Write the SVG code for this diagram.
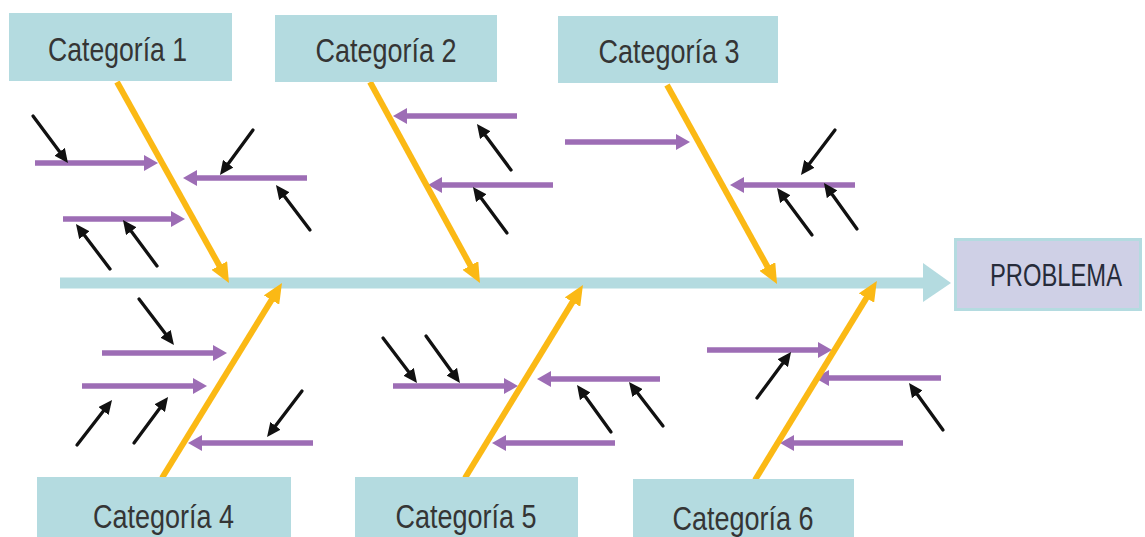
<svg xmlns="http://www.w3.org/2000/svg" width="1145" height="537" viewBox="0 0 1145 537">
  <style>
    .box { fill: #b4dbe0; }
    .label { font-family: "Liberation Sans Narrow", "Liberation Sans", Arial, sans-serif; font-size: 34px; fill: #353535; text-anchor: middle; }
    .problem { fill: #cfd0e6; stroke: #b4dbe0; stroke-width: 3; }
    .problem-label { fill: #262b3a; font-size: 31px; }
    .spine { stroke: #b4dbe0; stroke-width: 11; fill: none; }
    .bone { stroke: #fbb915; stroke-width: 6; fill: none; marker-end: url(#headBone); }
    .cause { stroke: #9d6db5; stroke-width: 5.5; fill: none; marker-end: url(#headCause); }
    .sub { stroke: #111; stroke-width: 3.3; stroke-linecap: round; fill: none; marker-end: url(#headSub); }
  </style>
  <defs>
    <marker id="headBone" markerUnits="userSpaceOnUse" markerWidth="20" markerHeight="18" refX="4" refY="9" orient="auto">
      <path d="M0,0 L20,9 L0,18 z" fill="#fbb915"/>
    </marker>
    <marker id="headCause" markerUnits="userSpaceOnUse" markerWidth="14" markerHeight="16" refX="4" refY="8" orient="auto">
      <path d="M0,0 L14,8 L0,16 z" fill="#9d6db5"/>
    </marker>
    <marker id="headSub" markerUnits="userSpaceOnUse" markerWidth="14" markerHeight="13" refX="5" refY="6.5" orient="auto">
      <path d="M0,0 L14,6.5 L0,13 z" fill="#111"/>
    </marker>
  </defs>

  <rect width="1145" height="537" fill="#ffffff"/>

  <!-- connectors: spine, category bones, causes and sub-causes -->
  <g id="connectors">
    <g id="spine">
      <line class="spine" x1="60" y1="283" x2="924" y2="283"/>
      <path d="M923,263 L951,283 L923,302 z" fill="#b4dbe0"/>
    </g>

    <g id="causes">
      <line class="cause" x1="35" y1="163" x2="148" y2="163"/>
      <line class="cause" x1="307" y1="178" x2="193" y2="178"/>
      <line class="cause" x1="63" y1="219" x2="175" y2="219"/>
      <line class="cause" x1="517" y1="116" x2="403" y2="116"/>
      <line class="cause" x1="565" y1="142" x2="680" y2="142"/>
      <line class="cause" x1="553" y1="185" x2="438" y2="185"/>
      <line class="cause" x1="855" y1="185" x2="740" y2="185"/>
      <line class="cause" x1="102" y1="353" x2="217" y2="353"/>
      <line class="cause" x1="82" y1="386" x2="197" y2="386"/>
      <line class="cause" x1="313" y1="443" x2="198" y2="443"/>
      <line class="cause" x1="393" y1="386" x2="508" y2="386"/>
      <line class="cause" x1="660" y1="379" x2="547" y2="379"/>
      <line class="cause" x1="615" y1="443" x2="502" y2="443"/>
      <line class="cause" x1="707" y1="350" x2="822" y2="350"/>
      <line class="cause" x1="941" y1="378" x2="825" y2="378"/>
      <line class="cause" x1="903" y1="443" x2="790" y2="443"/>
    </g>

    <g id="bones">
      <line class="bone" x1="117" y1="82" x2="221.2" y2="269"/>
      <line class="bone" x1="370" y1="82" x2="472.3" y2="269"/>
      <line class="bone" x1="667" y1="85" x2="769.3" y2="270"/>
      <line class="bone" x1="162" y1="478" x2="273.6" y2="296.6"/>
      <line class="bone" x1="465" y1="478" x2="574.6" y2="298.6"/>
      <line class="bone" x1="755" y1="480" x2="868.5" y2="294.6"/>
    </g>

    <g id="sub-causes">
      <line class="sub" x1="33" y1="116" x2="62.6" y2="155.8"/>
      <line class="sub" x1="253" y1="130" x2="225.3" y2="167.7"/>
      <line class="sub" x1="310" y1="230" x2="281.4" y2="192.2"/>
      <line class="sub" x1="110" y1="269" x2="81.4" y2="231.2"/>
      <line class="sub" x1="157" y1="266" x2="128.3" y2="227.2"/>
      <line class="sub" x1="511" y1="170" x2="482.3" y2="131.2"/>
      <line class="sub" x1="507" y1="233" x2="478.3" y2="194.2"/>
      <line class="sub" x1="835" y1="130" x2="806.4" y2="167.8"/>
      <line class="sub" x1="812" y1="235" x2="782.4" y2="195.2"/>
      <line class="sub" x1="857" y1="229" x2="829.2" y2="190.3"/>
      <line class="sub" x1="139" y1="299" x2="168.5" y2="337.8"/>
      <line class="sub" x1="77" y1="445" x2="106.5" y2="407.1"/>
      <line class="sub" x1="134" y1="443" x2="162.7" y2="404.2"/>
      <line class="sub" x1="302" y1="391" x2="272.5" y2="429.8"/>
      <line class="sub" x1="383" y1="338" x2="411.6" y2="375.8"/>
      <line class="sub" x1="426" y1="336" x2="454.7" y2="375.7"/>
      <line class="sub" x1="611" y1="432" x2="582.3" y2="392.3"/>
      <line class="sub" x1="663" y1="426" x2="634.5" y2="389.1"/>
      <line class="sub" x1="757" y1="398" x2="785.7" y2="359.2"/>
      <line class="sub" x1="943" y1="430" x2="914.3" y2="390.3"/>
    </g>
  </g>

  <!-- category headers -->
  <g id="cat1">
    <rect class="box" x="9" y="13" width="223" height="68"/>
    <text class="label" x="117.5" y="61" textLength="139" lengthAdjust="spacingAndGlyphs">Categoría 1</text>
  </g>
  <g id="cat2">
    <rect class="box" x="275" y="15" width="222" height="67"/>
    <text class="label" x="386" y="62" textLength="141" lengthAdjust="spacingAndGlyphs">Categoría 2</text>
  </g>
  <g id="cat3">
    <rect class="box" x="558" y="16" width="220" height="67"/>
    <text class="label" x="669" y="63" textLength="141" lengthAdjust="spacingAndGlyphs">Categoría 3</text>
  </g>
  <g id="cat4">
    <rect class="box" x="37" y="477" width="254" height="60"/>
    <text class="label" x="163.5" y="528" textLength="141" lengthAdjust="spacingAndGlyphs">Categoría 4</text>
  </g>
  <g id="cat5">
    <rect class="box" x="355" y="477" width="223" height="60"/>
    <text class="label" x="466" y="528" textLength="141" lengthAdjust="spacingAndGlyphs">Categoría 5</text>
  </g>
  <g id="cat6">
    <rect class="box" x="633" y="479" width="221" height="58"/>
    <text class="label" x="743" y="530" textLength="141" lengthAdjust="spacingAndGlyphs">Categoría 6</text>
  </g>

  <!-- effect -->
  <g id="problem">
    <rect class="problem" x="955.5" y="239.5" width="185" height="70"/>
    <text class="label problem-label" x="1056" y="286" textLength="132" lengthAdjust="spacingAndGlyphs">PROBLEMA</text>
  </g>
</svg>
